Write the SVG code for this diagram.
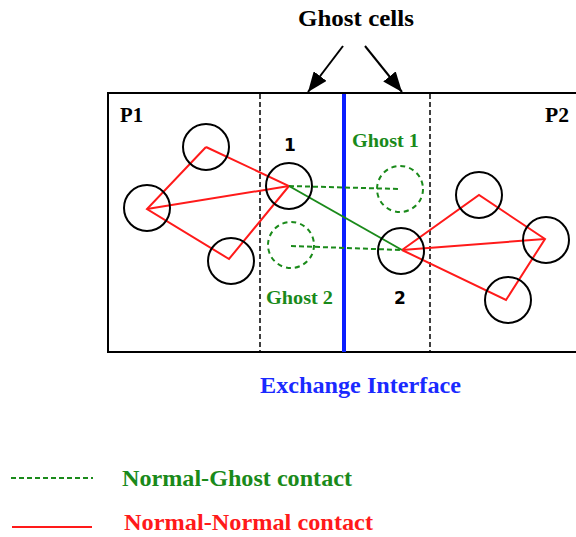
<svg xmlns="http://www.w3.org/2000/svg" width="576" height="537" viewBox="0 0 576 537">
<style>
.serif{font-family:"Liberation Serif","Times New Roman",serif;font-weight:bold}
.sans{font-family:"DejaVu Sans","Liberation Sans",sans-serif;font-weight:bold}
.cell{fill:none;stroke:#000;stroke-width:2}
.ghost{fill:none;stroke:#1a8a1a;stroke-width:2;stroke-dasharray:5,4}
.nn{stroke:#ff1a1a;stroke-width:2;fill:none}
.ng{stroke:#1a8a1a;stroke-width:2;stroke-dasharray:5,3;fill:none}
.gs{stroke:#1a8a1a;stroke-width:2;fill:none}
.bnd{stroke:#000;stroke-width:1.5;stroke-dasharray:5,3}
</style>
<defs>
<marker id="ah" viewBox="0 0 20 16" refX="20" refY="8" markerWidth="20" markerHeight="16" markerUnits="userSpaceOnUse" orient="auto">
<path d="M0,0 L20,8 L0,16 z" fill="#000"/>
</marker>
</defs>
<g id="domain">
<rect x="108" y="93" width="480" height="259" fill="none" stroke="#000" stroke-width="2"/>
<line class="bnd" x1="260" y1="94" x2="260" y2="352"/>
<line class="bnd" x1="430" y1="94" x2="430" y2="352"/>
<line x1="344" y1="94" x2="344" y2="352" stroke="#0a1eff" stroke-width="4"/>
</g>
<g id="title">
<text class="serif" x="298" y="26" font-size="23" textLength="116" lengthAdjust="spacingAndGlyphs">Ghost  cells</text>
</g>
<g id="labels">
<text class="serif" x="120" y="122" font-size="20" textLength="23" lengthAdjust="spacingAndGlyphs">P1</text>
<text class="serif" x="545" y="122" font-size="20" textLength="24" lengthAdjust="spacingAndGlyphs">P2</text>
<text class="serif" x="352" y="147" font-size="19" fill="#1a8a1a" textLength="67" lengthAdjust="spacingAndGlyphs">Ghost  1</text>
<text class="serif" x="266" y="304" font-size="19" fill="#1a8a1a" textLength="67" lengthAdjust="spacingAndGlyphs">Ghost  2</text>
<text class="sans" x="290" y="151" font-size="17" text-anchor="middle">1</text>
<text class="sans" x="400" y="304" font-size="17" text-anchor="middle">2</text>
<text class="serif" x="260" y="393" font-size="23" fill="#1a2aff" textLength="201" lengthAdjust="spacingAndGlyphs">Exchange  Interface</text>
</g>
<g id="connectors">
<line x1="343" y1="46" x2="308" y2="92" stroke="#000" stroke-width="2" marker-end="url(#ah)"/>
<line x1="365" y1="46" x2="402" y2="92" stroke="#000" stroke-width="2" marker-end="url(#ah)"/>
<polyline class="nn" points="206,147 289,186 229,259 147,209 206,147"/>
<line class="nn" x1="147" y1="209" x2="289" y2="186"/>
<polyline class="nn" points="402,250 479,195 545,239 506,300 402,250"/>
<line class="nn" x1="402" y1="250" x2="545" y2="239"/>
<line class="gs" x1="289" y1="186" x2="402" y2="250"/>
<line class="ng" x1="289" y1="186" x2="400" y2="189"/>
<line class="ng" x1="291" y1="246" x2="402" y2="250"/>
</g>
<g id="cells">
<circle class="cell" cx="206" cy="147" r="23"/>
<circle class="cell" cx="289" cy="186" r="23"/>
<circle class="cell" cx="147" cy="208" r="23"/>
<circle class="cell" cx="231" cy="261" r="23"/>
<circle class="cell" cx="401" cy="251" r="23"/>
<circle class="cell" cx="479" cy="195" r="23"/>
<circle class="cell" cx="546" cy="240" r="23"/>
<circle class="cell" cx="508" cy="300" r="23"/>
</g>
<g id="ghost-cells">
<circle class="ghost" cx="400" cy="189" r="23"/>
<circle class="ghost" cx="291" cy="245" r="23"/>
</g>
<g id="legend">
<line class="ng" x1="11" y1="478" x2="93" y2="478" stroke-dasharray="3,2" stroke-width="1.5"/>
<text class="serif" x="122" y="486" font-size="23" fill="#1a8a1a" textLength="230" lengthAdjust="spacingAndGlyphs">Normal-Ghost  contact</text>
<line class="nn" x1="12" y1="527" x2="92" y2="527"/>
<text class="serif" x="124" y="530" font-size="23" fill="#ff1a1a" textLength="249" lengthAdjust="spacingAndGlyphs">Normal-Normal  contact</text>
</g>
</svg>
